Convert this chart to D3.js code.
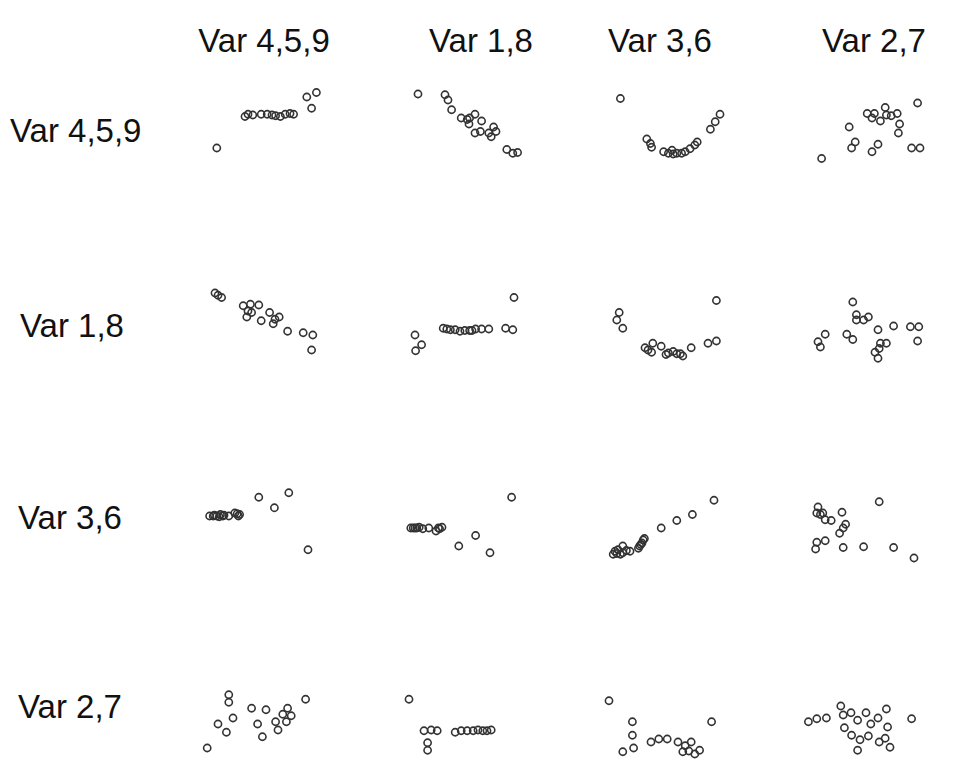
<!DOCTYPE html>
<meta charset="utf-8">
<style>
    body { margin: 0; background: #fff; }
    text { font-family: "Liberation Sans", Arial, sans-serif; fill: #111; }
    .label { font-size: 33px; }
    .pt { fill: none; stroke: #333; stroke-width: 1.6px; }
</style>
<body>
<script src="https://d3js.org/d3.v7.min.js"></script>
<script>
    var vars = ["Var 4,5,9", "Var 1,8", "Var 3,6", "Var 2,7"];

    // points of each panel, [x, y] on a 0..10 scale
    var r1c1 = [[1.4,1.6],[3.75,5.8],[4.0,6.1],[4.4,6.0],[5.1,6.1],[5.6,6.1],[6.0,6.0],[6.3,5.9],[6.7,5.8],
                [7.1,6.1],[7.5,6.2],[7.8,6.1],[8.9,8.4],[9.7,9.0],[9.3,6.9]];
    var r1c2 = [[1.5,8.8],[3.75,8.7],[4.0,8.0],[4.3,6.7],[5.1,5.6],[5.6,5.4],[5.8,5.6],[6.25,6.1],[5.75,4.8],
                [6.8,5.2],[6.25,3.6],[6.7,3.8],[7.4,3.6],[7.8,4.4],[8.0,3.8],[7.6,3.1],[8.9,1.4],[9.4,0.9],[9.8,1.0]];
    var r1c3 = [[1.7,8.2],[3.9,2.8],[4.2,2.2],[4.3,1.7],[5.3,1.1],[5.7,0.9],[6.0,1.3],[6.1,0.8],[6.4,0.9],
                [6.8,0.9],[7.1,1.1],[7.5,1.5],[7.9,2.0],[8.1,2.4],[9.2,4.1],[9.6,5.1],[10.0,6.1]];
    var r1c4 = [[1.8,0.2],[4.1,4.4],[4.6,2.4],[4.3,1.6],[5.6,6.2],[6.0,5.6],[6.2,6.2],[6.7,5.2],[7.1,7.0],
                [7.2,6.0],[7.6,5.9],[8.1,6.2],[8.3,4.8],[8.2,3.6],[6.5,2.1],[6.0,1.1],[9.3,1.6],[10.0,1.6],[9.8,7.6]];

    var r2c1 = [[1.25,8.8],[1.5,8.5],[1.8,8.2],[3.6,7.1],[4.2,7.3],[4.9,7.2],[4.0,6.4],[4.3,6.2],[3.9,5.6],
                [5.1,5.1],[5.8,6.2],[6.25,5.3],[6.1,4.7],[6.6,5.6],[7.3,3.7],[8.6,3.5],[9.4,3.2],[9.3,1.2]];
    var r2c2 = [[9.5,8.2],[1.25,3.2],[1.8,1.9],[1.3,1.1],[3.6,4.1],[3.9,4.0],[4.2,3.9],[4.6,3.9],[5.0,3.7],
                [5.4,3.8],[5.8,3.8],[6.0,3.8],[6.3,4.0],[6.8,4.0],[7.4,4.0],[8.8,4.1],[9.4,3.9]];
    var r2c3 = [[1.6,6.2],[1.4,5.2],[1.9,4.1],[9.7,7.8],[3.75,1.5],[4.0,1.2],[4.4,2.1],[4.3,0.9],[5.1,1.7],
                [5.5,0.6],[5.7,0.8],[6.1,1.0],[6.4,0.7],[6.7,0.7],[6.9,0.4],[7.6,1.5],[9.0,2.1],[9.7,2.4]];
    var r2c4 = [[4.4,7.6],[4.7,5.9],[4.7,5.2],[5.3,5.2],[5.7,5.6],[2.1,3.3],[1.5,2.3],[1.7,1.6],[3.9,3.3],
                [4.4,2.6],[6.5,3.9],[7.8,4.4],[9.2,4.3],[9.9,4.3],[9.8,2.4],[6.7,2.1],[7.2,2.1],[6.6,1.4],
                [6.25,0.9],[6.5,0.1]];

    var r3c1 = [[0.8,5.6],[1.1,5.6],[1.2,5.7],[1.4,5.6],[1.6,5.5],[1.7,5.8],[1.9,5.6],[2.0,5.7],[2.4,5.6],
                [2.9,6.0],[3.1,5.9],[3.2,5.6],[3.3,5.8],[4.9,8.1],[6.2,6.7],[7.4,8.7],[9.0,1.1]];
    var r3c2 = [[0.9,4.0],[1.1,4.0],[1.25,4.0],[1.4,4.0],[1.6,4.1],[1.9,3.9],[2.4,4.0],[3.0,3.6],[3.2,4.0],
                [3.3,3.9],[3.5,4.1],[9.3,8.1],[6.3,3.0],[4.9,1.6],[7.5,0.7]];
    var r3c3 = [[9.5,7.7],[7.7,5.8],[6.4,5.0],[5.1,4.0],[3.7,2.6],[3.6,2.4],[3.5,2.0],[3.4,1.8],[3.3,1.6],
                [3.2,1.3],[2.5,0.9],[2.2,1.0],[1.9,1.6],[1.5,1.1],[1.25,0.9],[1.1,0.5],[1.4,0.6],[1.7,0.5],[1.9,0.7]];
    var r3c4 = [[1.5,6.8],[1.4,6.0],[1.7,5.8],[1.9,6.0],[2.1,5.1],[2.6,5.0],[3.5,6.1],[3.8,4.5],[3.6,4.0],
                [3.3,3.3],[6.6,7.5],[1.4,2.1],[1.3,1.2],[2.1,2.3],[3.6,1.4],[5.3,1.5],[7.8,1.4],[9.5,0.0]];

    var r4c1 = [[2.4,8.3],[2.4,7.3],[2.75,5.2],[1.5,4.4],[2.2,3.3],[0.6,1.2],[4.3,6.5],[5.5,6.3],[4.8,4.4],
                [5.2,2.7],[6.3,4.7],[6.9,5.7],[7.3,6.5],[7.6,5.5],[7.2,4.7],[6.5,3.6],[8.8,7.7]];
    var r4c2 = [[0.75,7.7],[2.0,3.5],[2.6,3.6],[3.1,3.5],[2.3,1.9],[2.3,0.9],[4.6,3.3],[5.1,3.5],[5.6,3.5],
                [6.1,3.5],[6.5,3.6],[6.9,3.5],[7.25,3.5],[7.6,3.6]];
    var r4c3 = [[0.75,7.5],[2.7,4.7],[2.7,2.9],[1.9,0.7],[2.8,1.2],[4.25,2.0],[4.9,2.4],[5.6,2.4],[6.5,2.0],
                [7.1,1.5],[7.6,2.0],[7.4,0.8],[7.9,0.4],[8.3,0.9],[6.9,0.7],[9.3,4.7]];
    var r4c4 = [[0.7,4.7],[1.4,5.1],[2.2,5.2],[3.4,6.8],[3.6,5.6],[4.25,5.9],[4.8,4.9],[5.5,5.9],[5.9,4.4],
                [6.5,5.2],[7.2,6.4],[7.3,4.0],[3.7,3.9],[4.3,2.9],[5.0,2.3],[5.7,2.8],[6.6,2.0],[7.1,2.5],
                [7.5,1.3],[4.8,0.9],[9.3,5.1]];

    var grid = [[r1c1, r1c2, r1c3, r1c4],
                [r2c1, r2c2, r2c3, r2c4],
                [r3c1, r3c2, r3c3, r3c4],
                [r4c1, r4c2, r4c3, r4c4]];

    var W = 957, H = 761;
    var cellW = 120, cellH = 75;

    var svg = d3.select("body").append("svg").attr("width", W).attr("height", H);

    var colLeft = d3.scaleLinear().domain([0, 3]).range([200, 800]);
    var rowTop = d3.scaleLinear().domain([0, 3]).range([85, 682]);
    var x = d3.scaleLinear().domain([0, 10]).range([0, cellW]);
    var y = d3.scaleLinear().domain([0, 10]).range([cellH, 0]);

    // column headers (scan is not centred exactly on the panels)
    var headX = [264, 481, 660, 874];
    svg.selectAll(".colhead").data(vars).enter().append("text")
        .attr("class", "label colhead")
        .attr("x", (d, i) => headX[i])
        .attr("y", 52)
        .attr("text-anchor", "middle")
        .text(d => d);

    // row labels
    var rowLabelX = [10, 20, 18, 18];
    var rowLabelY = [142, 337, 529, 718];
    svg.selectAll(".rowhead").data(vars).enter().append("text")
        .attr("class", "label rowhead")
        .attr("x", (d, i) => rowLabelX[i])
        .attr("y", (d, i) => rowLabelY[i])
        .text(d => d);

    grid.forEach(function(row, ri) {
        row.forEach(function(pts, ci) {
            var g = svg.append("g")
                .attr("transform", "translate(" + colLeft(ci) + "," + rowTop(ri) + ")");
            g.selectAll("circle").data(pts).enter().append("circle")
                .attr("class", "pt")
                .attr("cx", d => x(d[0]))
                .attr("cy", d => y(d[1]))
                .attr("r", 3.6);
        });
    });
</script>
</body>
